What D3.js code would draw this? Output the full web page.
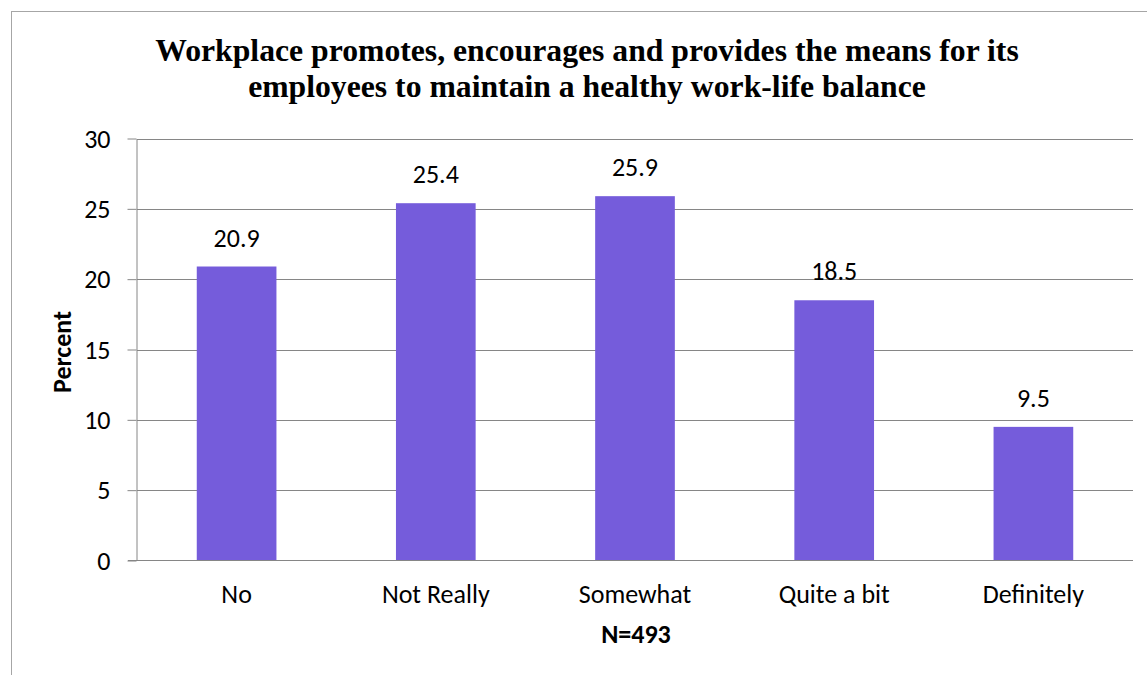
<!DOCTYPE html>
<html><head><meta charset="utf-8">
<script src="https://cdn.jsdelivr.net/npm/d3@7"></script>
<style>body{margin:0;background:#fff}svg{display:block}
.ttl{font-family:"Liberation Serif","Tinos","Times New Roman",Times,"DejaVu Serif",serif;font-weight:bold}</style>
</head><body>
<script>
const categories = ["No","Not Really","Somewhat","Quite a bit","Definitely"];
const values = [20.9,25.4,25.9,18.5,9.5];
const yTicks = [0,5,10,15,20,25,30];
const titleLines = ["Workplace promotes, encourages and provides the means for its","employees to maintain a healthy work-life balance"];

(function(){
const W=1147,H=675;
const svg=d3.select("body").append("svg").attr("width",W).attr("height",H);
svg.append("rect").attr("x",11.5).attr("y",11.5).attr("width",W+20).attr("height",H+20)
  .attr("fill","#fff").attr("stroke","#a6a6a6").attr("stroke-width",1);

const pLeft=137,pRight=1133,pTop=138.5,pBottom=560.5;
const x=d3.scaleBand().domain(categories).range([pLeft,pRight]).paddingInner(0.6).paddingOuter(0.3);
const y=d3.scaleLinear().domain([0,30]).range([pBottom,pTop]);
const font="Carlito, Calibri, Lato, 'Open Sans', sans-serif";
const fs=26;

svg.append("g").selectAll("line").data(yTicks.filter(d=>d>0)).join("line")
  .attr("x1",pLeft).attr("x2",pRight).attr("y1",d=>Math.round(y(d))+0.5).attr("y2",d=>Math.round(y(d))+0.5)
  .attr("stroke","#868686").attr("stroke-width",1);

svg.append("g").selectAll("rect").data(values).join("rect")
  .attr("x",(d,i)=>x(categories[i])).attr("width",x.bandwidth())
  .attr("y",d=>y(d)).attr("height",d=>y(0)-y(d)).attr("fill","#755cdb");

const ya=svg.append("g").attr("transform",`translate(${pLeft-0.5},0)`)
  .call(d3.axisLeft(y).tickValues(yTicks).tickSize(9).tickPadding(17).tickSizeOuter(0));
ya.select(".domain").attr("stroke","#868686");
ya.selectAll(".tick line").attr("stroke","#868686");
ya.selectAll("text").attr("font-family",font).attr("font-size",fs).attr("fill","#000").attr("dy","0.33em");

const xa=svg.append("g").attr("transform",`translate(0,${pBottom})`)
  .call(d3.axisBottom(x).tickSize(0));
xa.select(".domain").attr("stroke","#868686").attr("d",`M${pLeft-9},0H${pRight}`);
xa.selectAll("text").attr("font-family",font).attr("font-size",fs).attr("fill","#000").attr("y",42).attr("dy",0);

svg.append("g").selectAll("text").data(values).join("text")
  .attr("x",(d,i)=>x(categories[i])+x.bandwidth()/2).attr("y",d=>y(d)-20)
  .attr("text-anchor","middle").attr("font-family",font).attr("font-size",fs).attr("fill","#000")
  .text(d=>d.toFixed(1));

svg.append("g").selectAll("text").data(titleLines).join("text").attr("class","ttl")
  .attr("x",587).attr("y",(d,i)=>61+i*36).attr("text-anchor","middle")
  .attr("font-size",31.7).attr("fill","#000").text(d=>d);

svg.append("text").attr("transform",`translate(71,352) rotate(-90)`).attr("text-anchor","middle")
  .attr("font-family",font).attr("font-weight","bold").attr("font-size",fs).text("Percent");
svg.append("text").attr("x",636).attr("y",643).attr("text-anchor","middle")
  .attr("font-family",font).attr("font-weight","bold").attr("font-size",fs).text("N=493");
})();
</script>
</body></html>
